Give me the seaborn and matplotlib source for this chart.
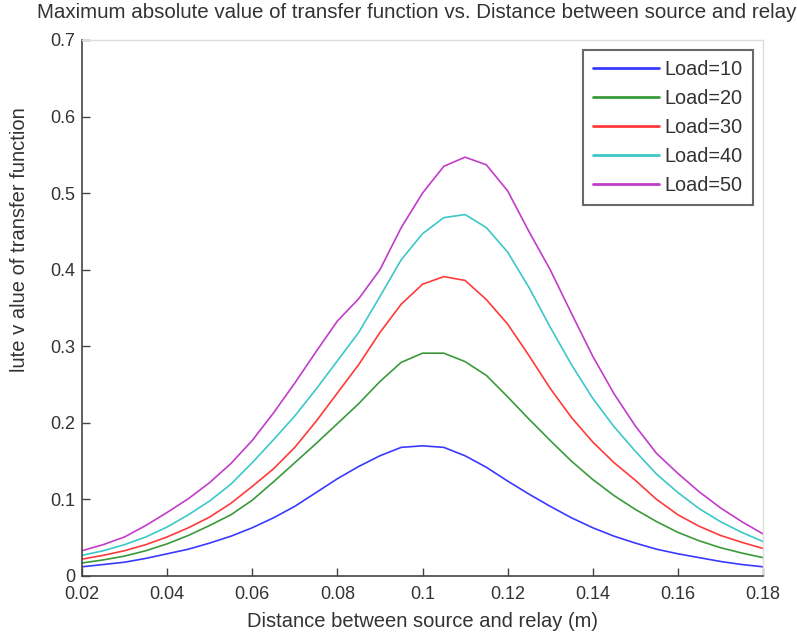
import numpy as np
import pandas as pd
import matplotlib
matplotlib.use("Agg")
import matplotlib.pyplot as plt
import seaborn as sns

# ---- data ----
distance = [0.020, 0.025, 0.030, 0.035, 0.040, 0.045, 0.050, 0.055, 0.060, 0.065,
            0.070, 0.075, 0.080, 0.085, 0.090, 0.095, 0.100, 0.105, 0.110, 0.115,
            0.120, 0.125, 0.130, 0.135, 0.140, 0.145, 0.150, 0.155, 0.160, 0.165,
            0.170, 0.175, 0.180]

load10 = [0.012, 0.015, 0.018, 0.023, 0.029, 0.035, 0.043, 0.052, 0.063, 0.076,
          0.091, 0.109, 0.127, 0.143, 0.157, 0.168, 0.170, 0.168, 0.157, 0.142,
          0.124, 0.107, 0.091, 0.076, 0.063, 0.052, 0.043, 0.035, 0.029, 0.024,
          0.019, 0.015, 0.012]

load20 = [0.017, 0.021, 0.026, 0.033, 0.042, 0.053, 0.066, 0.080, 0.099, 0.123,
          0.148, 0.173, 0.199, 0.225, 0.254, 0.279, 0.291, 0.291, 0.280, 0.262,
          0.234, 0.205, 0.177, 0.150, 0.126, 0.105, 0.087, 0.071, 0.057, 0.046,
          0.037, 0.030, 0.024]

load30 = [0.022, 0.027, 0.033, 0.041, 0.051, 0.063, 0.077, 0.095, 0.117, 0.140,
          0.168, 0.202, 0.239, 0.276, 0.318, 0.355, 0.381, 0.391, 0.386, 0.361,
          0.329, 0.288, 0.245, 0.207, 0.175, 0.148, 0.125, 0.100, 0.080, 0.065,
          0.053, 0.044, 0.036]

load40 = [0.027, 0.033, 0.041, 0.051, 0.064, 0.080, 0.098, 0.120, 0.148, 0.178,
          0.209, 0.244, 0.281, 0.318, 0.365, 0.413, 0.447, 0.468, 0.472, 0.455,
          0.423, 0.377, 0.325, 0.276, 0.232, 0.195, 0.163, 0.133, 0.109, 0.088,
          0.071, 0.057, 0.045]

load50 = [0.033, 0.041, 0.051, 0.066, 0.083, 0.101, 0.122, 0.147, 0.177, 0.213,
          0.252, 0.293, 0.333, 0.362, 0.400, 0.455, 0.500, 0.535, 0.547, 0.537,
          0.503, 0.450, 0.400, 0.343, 0.287, 0.238, 0.196, 0.160, 0.134, 0.110,
          0.089, 0.071, 0.055]

series_labels = ["Load=10", "Load=20", "Load=30", "Load=40", "Load=50"]
x_ticks = [0.02, 0.04, 0.06, 0.08, 0.10, 0.12, 0.14, 0.16, 0.18]
x_tick_labels = ["0.02", "0.04", "0.06", "0.08", "0.1", "0.12", "0.14", "0.16", "0.18"]
y_ticks = [0.0, 0.1, 0.2, 0.3, 0.4, 0.5, 0.6, 0.7]
y_tick_labels = ["0", "0.1", "0.2", "0.3", "0.4", "0.5", "0.6", "0.7"]

title_text = "Maximum absolute value of transfer function vs. Distance between source and relay"
xlabel_text = "Distance between source and relay (m)"
ylabel_text = "lute v alue of transfer function"

colors = ["#3a3aff", "#3a9a3a", "#ff3a3a", "#3cc8c8", "#c23cca"]

# ---- build table ----
df = pd.DataFrame({"distance": distance,
                   "Load=10": load10, "Load=20": load20, "Load=30": load30,
                   "Load=40": load40, "Load=50": load50})
long = df.melt(id_vars="distance", var_name="series", value_name="value")

sns.set_theme(style="white")
plt.rcParams["font.family"] = ["Liberation Sans", "DejaVu Sans"]

fig = plt.figure(figsize=(7.97, 6.35), dpi=100)
ax = fig.add_axes([82 / 797, 59 / 635, (763 - 82) / 797, (576 - 40) / 635])

sns.lineplot(data=long, x="distance", y="value", hue="series",
             hue_order=series_labels, palette=colors, linewidth=1.2, ax=ax)

ax.set_xlim(0.02, 0.18)
ax.set_ylim(0, 0.7)
ax.set_xticks(x_ticks)
ax.set_xticklabels(x_tick_labels)
ax.set_yticks(y_ticks)
ax.set_yticklabels(y_tick_labels)

tick_color = "#333333"
ax.tick_params(axis="both", direction="in", length=6, width=1, colors="#444444",
               labelcolor=tick_color, labelsize=13, bottom=True, left=True,
               top=False, right=False)
ax.tick_params(axis="x", pad=7)
ax.tick_params(axis="y", pad=5)
for side in ["left", "bottom"]:
    ax.spines[side].set_color("#444444")
    ax.spines[side].set_linewidth(1.2)
for side in ["top", "right"]:
    ax.spines[side].set_color("#dddddd")
    ax.spines[side].set_linewidth(1.0)

ax.set_xlabel(xlabel_text, fontsize=14.5, color=tick_color, labelpad=7)
ax.set_ylabel(ylabel_text, fontsize=14.5, color=tick_color)
ax.yaxis.set_label_coords(-0.078, 0.627)

fig.text(37 / 797, 1 - 13 / 635, title_text, fontsize=14.8, color=tick_color,
         ha="left", va="center")

leg = ax.legend(loc="upper right", bbox_to_anchor=(0.985, 0.981), fontsize=14.3,
                frameon=True, fancybox=False, handlelength=3.3, handletextpad=0.3,
                labelspacing=0.5, borderpad=0.5, borderaxespad=0.0)
leg.get_frame().set_edgecolor("#444444")
leg.get_frame().set_linewidth(1.5)
for t in leg.get_texts():
    t.set_color(tick_color)
for l in leg.get_lines():
    l.set_linewidth(2.0)

fig.savefig("out.png", dpi=100, facecolor="white")
